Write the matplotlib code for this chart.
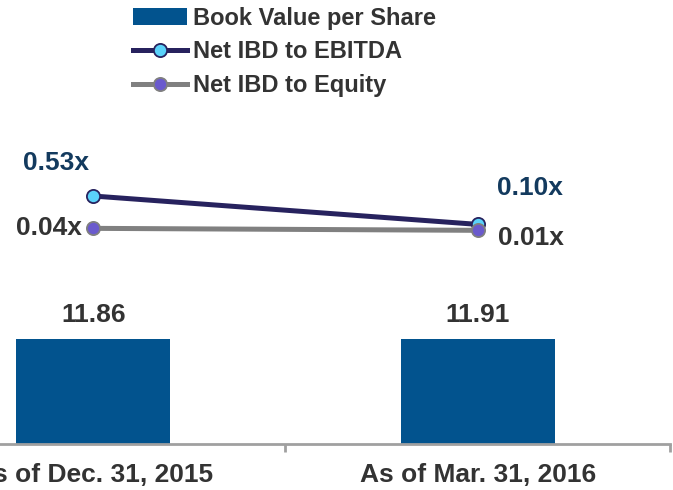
import matplotlib
matplotlib.use("Agg")
import matplotlib.pyplot as plt

plt.rcParams['font.family'] = ['Liberation Sans', 'DejaVu Sans']
plt.rcParams['font.weight'] = 'bold'

categories = ["As of Dec. 31, 2015", "As of Mar. 31, 2016"]
book_value = [11.86, 11.91]
ibd_ebitda = [0.53, 0.10]
ibd_equity = [0.04, 0.01]

bar_labels = ["11.86", "11.91"]
ebitda_labels = ["0.53x", "0.10x"]
equity_labels = ["0.04x", "0.01x"]

BAR_COLOR = "#02538E"
TEXT_GRAY = "#333333"
NAVY_TEXT = "#133A5E"
EBITDA_LINE = "#27225E"
EBITDA_FACE = "#5AD2FA"
EQUITY_LINE = "#808080"
EQUITY_FACE = "#6A5ACD"
AXIS_GRAY = "#A0A0A0"

W, H = 673, 490
fig = plt.figure(figsize=(W / 100, H / 100), dpi=100)

left_px, right_px = -99, 670
top_px, bottom_px = 130, 444
ax = fig.add_axes([left_px / W, 1 - bottom_px / H,
                   (right_px - left_px) / W, (bottom_px - top_px) / H])

x = list(range(len(categories)))
bars = ax.bar(x, book_value, width=0.4, color=BAR_COLOR, zorder=2,
              label="Book Value per Share")
ax.set_xlim(-0.5, 1.5)
ax.set_ylim(0, 35.47)

px = 72 / 100  # points per pixel

for xi, v, lab in zip(x, book_value, bar_labels):
    ax.annotate(lab, (xi, v), xytext=(0, 17 * px), textcoords="offset points",
                ha="center", va="baseline", fontsize=19, fontweight="bold",
                color=TEXT_GRAY)

# category axis
for s in ["top", "right", "left"]:
    ax.spines[s].set_visible(False)
ax.spines["bottom"].set_color(AXIS_GRAY)
ax.spines["bottom"].set_linewidth(2)
ax.set_yticks([])
ax.set_xticks([-0.5, 0.5, 1.5])
ax.set_xticklabels([])
ax.tick_params(axis="x", which="major", length=6, width=2, color=AXIS_GRAY)
ax.set_xticks(x, minor=True)
ax.set_xticklabels(categories, minor=True, fontsize=19, fontweight="bold",
                   color=TEXT_GRAY)
ax.tick_params(axis="x", which="minor", length=0, pad=14)

# ratio lines on a secondary scale
ax2 = ax.twinx()
ax2.set_ylim(-3.227, 1.530)
ax2.axis("off")
l1, = ax2.plot(x, ibd_ebitda, color=EBITDA_LINE, lw=3.6, marker="o",
               markersize=9.5, markerfacecolor=EBITDA_FACE,
               markeredgecolor=EBITDA_LINE, markeredgewidth=1.3, zorder=3,
               label="Net IBD to EBITDA")
l2, = ax2.plot(x, ibd_equity, color=EQUITY_LINE, lw=3.6, marker="o",
               markersize=9.5, markerfacecolor=EQUITY_FACE,
               markeredgecolor=EQUITY_LINE, markeredgewidth=1.3, zorder=4,
               label="Net IBD to Equity")

ebitda_off = [((-37) * px, 33 * px, "center"), (52 * px, 36 * px, "center")]
equity_off = [((-11) * px, 0, "right"), (20 * px, -8 * px, "left")]
for xi, v, lab, (dx, dy, ha) in zip(x, ibd_ebitda, ebitda_labels, ebitda_off):
    ax2.annotate(lab, (xi, v), xytext=(dx, dy), textcoords="offset points",
                 ha=ha, va="center", fontsize=19, fontweight="bold",
                 color=NAVY_TEXT)
for xi, v, lab, (dx, dy, ha) in zip(x, ibd_equity, equity_labels, equity_off):
    ax2.annotate(lab, (xi, v), xytext=(dx, dy), textcoords="offset points",
                 ha=ha, va="center", fontsize=19, fontweight="bold",
                 color=TEXT_GRAY)

leg = fig.legend([bars, l1, l2],
                 ["Book Value per Share", "Net IBD to EBITDA", "Net IBD to Equity"],
                 loc="upper left", bbox_to_anchor=(128 / W, 1 - 2 / H),
                 frameon=False, fontsize=17, handlelength=2.3,
                 handletextpad=0.25, labelspacing=0.45, borderaxespad=0,
                 borderpad=0.2)
for t in leg.get_texts():
    t.set_color(TEXT_GRAY)
    t.set_fontweight("bold")

fig.savefig("out.png", dpi=100)
